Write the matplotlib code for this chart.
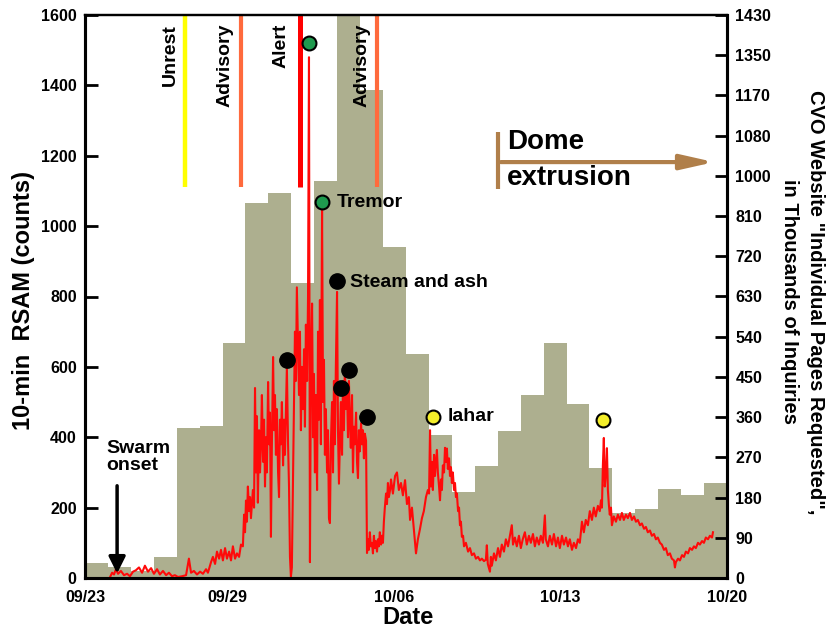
import numpy as np
import matplotlib
matplotlib.use("Agg")
import matplotlib.pyplot as plt

plt.rcParams['font.family'] = ['Liberation Sans', 'DejaVu Sans']
plt.rcParams['font.weight'] = 'bold'

# --- data (days since 09/23, RSAM counts) ---
date_ticks = [0, 6, 13, 20, 27]
date_labels = ['09/23', '09/29', '10/06', '10/13', '10/20']

right_labels = ['0', '90', '180', '270', '360', '450', '540', '630', '720',
                '810', '1000', '1080', '1170', '1350', '1430']

# web page bars, drawn on the RSAM scale
page_bars = [43, 31, 20, 60, 425, 431, 667, 1065, 1093, 838, 1128, 1650, 1386, 940,
             636, 406, 244, 318, 418, 520, 668, 494, 312, 185, 196, 253, 236, 270]

rsam_day = [
    1.05, 1.14, 1.22, 1.30, 1.39, 1.51, 1.64, 1.77, 1.89, 2.02, 2.14, 2.27, 2.40, 2.52,
    2.65, 2.78, 2.90, 3.03, 3.15, 3.28, 3.41, 3.53, 3.66, 3.78, 3.91, 4.08, 4.25, 4.37,
    4.46, 4.58, 4.71, 4.84, 4.96, 5.09, 5.17, 5.30, 5.38, 5.47, 5.55, 5.64, 5.72, 5.80,
    5.89, 5.97, 6.06, 6.14, 6.22, 6.31, 6.39, 6.48, 6.56, 6.64, 6.69, 6.73, 6.77, 6.81,
    6.85, 6.90, 6.94, 6.98, 7.06, 7.11,
    7.15, 7.19, 7.23, 7.27, 7.32, 7.36, 7.40, 7.44, 7.49, 7.53, 7.57, 7.61, 7.65, 7.70,
    7.74, 7.78, 7.82, 7.86, 7.91, 7.95, 7.99, 8.03, 8.07, 8.12, 8.16, 8.20, 8.24, 8.28,
    8.33, 8.37, 8.41, 8.45, 8.49, 8.54, 8.58, 8.62, 8.66, 8.70, 8.75, 8.79, 8.83, 8.87,
    8.91, 8.96, 9.00, 9.04, 9.08, 9.12, 9.17, 9.21, 9.25, 9.29, 9.34, 9.38, 9.42, 9.46,
    9.50, 9.55, 9.59, 9.63, 9.67, 9.71, 9.76, 9.80, 9.84, 9.88, 9.92, 9.97, 10.01, 10.05,
    10.09, 10.13, 10.18, 10.22, 10.26, 10.30, 10.34, 10.39, 10.43, 10.47, 10.51, 10.55,
    10.60, 10.64, 10.68, 10.72, 10.76, 10.81, 10.85, 10.89, 10.93, 10.97, 11.02, 11.06,
    11.10, 11.14, 11.18, 11.23, 11.27, 11.31, 11.35, 11.40, 11.44, 11.48, 11.52, 11.56,
    11.61, 11.65, 11.69, 11.73, 11.77, 11.82, 11.86, 11.90, 11.94, 11.98, 12.02, 12.07,
    12.11, 12.15, 12.19, 12.23, 12.28, 12.32, 12.36, 12.40, 12.45, 12.49, 12.53, 12.57,
    12.61, 12.66, 12.70, 12.74, 12.78, 12.83,
    12.87, 12.95, 13.04, 13.12, 13.20, 13.29, 13.37, 13.46, 13.54, 13.62, 13.67, 13.75,
    13.83, 13.92, 14.00, 14.09, 14.17, 14.25, 14.34, 14.42, 14.47, 14.51, 14.55, 14.59,
    14.63, 14.68, 14.72, 14.76, 14.80, 14.84, 14.89, 14.93, 14.97, 15.01, 15.05, 15.10,
    15.14, 15.18, 15.22, 15.26, 15.31, 15.35, 15.39, 15.43, 15.47, 15.52, 15.56, 15.60,
    15.64, 15.69, 15.73, 15.77, 15.81, 15.85, 15.90, 15.94, 16.02, 16.11, 16.19, 16.27,
    16.36, 16.44, 16.53, 16.61, 16.69, 16.78, 16.86, 16.90, 16.94, 17.03, 17.07, 17.11,
    17.20, 17.28, 17.37, 17.45, 17.53, 17.62, 17.70, 17.79, 17.87, 17.95, 18.00, 18.08,
    18.16, 18.25, 18.33, 18.41, 18.50, 18.58, 18.67, 18.75, 18.84, 18.92, 19.00, 19.09,
    19.17, 19.26, 19.34, 19.38, 19.47, 19.55, 19.64, 19.72, 19.81, 19.89, 19.97, 20.06,
    20.14, 20.23, 20.31, 20.39, 20.48, 20.56, 20.65, 20.73, 20.81, 20.90, 20.98, 21.06,
    21.15, 21.23, 21.32, 21.40, 21.48, 21.57, 21.65, 21.70, 21.74, 21.78, 21.82, 21.86,
    21.91, 21.95, 21.99, 22.03, 22.07, 22.12, 22.16, 22.24, 22.33, 22.41, 22.50, 22.58,
    22.66, 22.75, 22.83, 22.92, 23.00, 23.09, 23.17, 23.25, 23.34, 23.42, 23.51, 23.59,
    23.67, 23.76, 23.84, 23.93, 24.01, 24.09, 24.18, 24.26, 24.35, 24.43, 24.51, 24.60,
    24.68, 24.77, 24.81, 24.85, 24.94, 25.02, 25.11, 25.19, 25.27, 25.36, 25.44, 25.53,
    25.61, 25.69, 25.78, 25.86, 25.95, 26.03, 26.11, 26.20, 26.28, 26.37, 26.41,
]
rsam_count = [
    2, 15, 10, 25, 12, 20, 8, 12, 5, 18, 22, 30, 15, 35,
    18, 28, 12, 25, 10, 20, 8, 15, 5, 8, 3, 5, 8, 55,
    15, 20, 10, 18, 12, 25, 15, 45, 60, 40, 75, 55, 80, 50,
    85, 55, 75, 50, 90, 55, 70, 60, 95, 90, 180, 130, 220, 160,
    260, 190, 230, 170, 250, 200,
    540, 300, 460, 214, 420, 300, 380, 520, 330, 450, 260, 400, 300, 557,
    380, 470, 117, 380, 628, 420, 520, 350, 480, 300, 230, 450, 380, 500,
    320, 450, 350, 480, 600, 380, 260, 60, 4, 30, 300, 500, 700, 560,
    826, 650, 520, 700, 420, 600, 480, 650, 430, 720, 560, 800, 1480, 45,
    600, 780, 400, 580, 300, 520, 250, 700, 450, 790, 380, 1045, 500, 620,
    350, 480, 300, 420, 170, 156, 380, 500, 300, 560, 380, 600,
    813, 420, 268, 380, 500, 350, 560, 420, 600, 480, 540, 400,
    560, 450, 370, 520, 300, 430, 380, 470, 330, 284, 420, 360,
    440, 380, 420, 340, 410, 390, 71, 110, 80, 130, 90, 100,
    70, 120, 85, 105, 75, 110, 90, 130, 95, 120, 100, 160,
    200, 240, 210, 270, 230, 250,
    280, 240, 290, 300, 250, 270, 235, 278, 210, 230, 165, 200,
    140, 70, 110, 140, 170, 190, 230, 250, 240, 420, 260, 330,
    250, 350, 290, 330, 364, 300, 260, 221, 280, 250, 320, 300,
    370, 330, 368, 310, 340, 290, 315, 270, 300, 250, 270, 230,
    240, 190, 200, 150, 160, 117, 120, 90, 100, 75, 85, 65,
    70, 55, 60, 50, 55, 48, 52, 93, 40, 18, 60, 35,
    70, 50, 85, 60, 95, 75, 110, 90, 120, 150, 95, 115,
    90, 120, 85, 110, 130, 95, 120, 100, 125, 90, 115, 95,
    120, 100, 178, 110, 90, 120, 95, 125, 90, 115, 85, 120,
    95, 115, 90, 110, 80, 100, 85, 110, 100, 160, 130, 165,
    150, 190, 165, 200, 175, 205, 190, 221, 200, 320, 398, 260,
    300, 369, 250, 210, 180, 200, 150, 175, 160, 180, 165, 185,
    165, 180, 170, 185, 165, 175, 160, 165, 150, 155, 140, 145,
    130, 135, 120, 125, 110, 115, 100, 95, 80, 85, 65, 70,
    55, 50, 30, 45, 55, 50, 65, 60, 75, 70, 85, 80,
    90, 85, 100, 95, 105, 100, 115, 110, 120, 115, 130,
]

# alert level changes
level_days = [4.2, 6.56, 9.04, 12.28]
level_names = ['Unrest', 'Advisory', 'Alert', 'Advisory']
level_text_days = [3.57, 5.89, 8.24, 11.65]

# events
green_day = [9.42, 9.97]
green_count = [1520, 1068]
black_day = [10.60, 8.49, 11.10, 10.77, 11.86]
black_count = [844, 619, 591, 540, 457]
yellow_day = [14.63, 21.78]
yellow_count = [457, 449]

bar_color = '#adaf8f'
level_colors = ['#ffff00', '#ff6a3d', '#ff0000', '#ff6a3d']
brown = '#b07f4a'

fig = plt.figure(figsize=(8.32, 6.31), dpi=100)
ax = fig.add_axes([85 / 832, 1 - 578 / 631, 642 / 832, 563 / 631])

ax.stairs(page_bars, np.linspace(0, 27, len(page_bars) + 1), fill=True,
          color=bar_color, zorder=1)
ax.plot(rsam_day, rsam_count, color='#ff0a0a', lw=1.5, zorder=3)

for d, c, w in zip(level_days, level_colors, [3.2, 3.0, 3.6, 3.0]):
    ax.plot([d, d], [1110, 1600], color=c, lw=w, solid_capstyle='butt', zorder=2)
for d, name in zip(level_text_days, level_names):
    ax.text(d, 1575, name, rotation=90, ha='center', va='top', fontsize=14)

ax.plot(green_day, green_count, 'o', ms=10, mfc='#1f9a4e', mec='black', mew=1.5, zorder=5)
ax.plot(black_day, black_count, 'o', ms=11, mfc='black', mec='black', zorder=5)
ax.plot(yellow_day, yellow_count, 'o', ms=10, mfc='#f4ee2a', mec='black', mew=1.5, zorder=5)

ax.text(10.60, 1068, 'Tremor', va='center', fontsize=14)
ax.text(11.14, 840, 'Steam and ash', va='center', fontsize=14)
ax.text(15.26, 460, 'lahar', va='center', fontsize=14)

# swarm onset arrow
ax.annotate('', xy=(1.35, 5), xytext=(1.35, 270),
            arrowprops=dict(arrowstyle='-|>,head_width=0.5,head_length=1.0',
                            color='black', lw=2.5), zorder=6)
ax.text(0.88, 345, 'Swarm\nonset', ha='left', va='center', fontsize=14, linespacing=1.0)

# dome extrusion
ax.plot([17.37, 17.37], [1105, 1267], color=brown, lw=3, solid_capstyle='butt')
ax.annotate('', xy=(26.58, 1182), xytext=(17.37, 1182),
            arrowprops=dict(arrowstyle='-|>,head_width=0.45,head_length=2.0',
                            color=brown, lw=3))
ax.text(17.75, 1238, 'Dome', ha='left', va='center', fontsize=20)
ax.text(17.75, 1136, 'extrusion', ha='left', va='center', fontsize=20)

ax.set_xlim(0, 27)
ax.set_ylim(0, 1600)
ax.set_xticks(date_ticks)
ax.set_xticklabels(date_labels)
ax.set_yticks(np.arange(0, 1601, 200))
ax.tick_params(axis='x', length=0, pad=9, labelsize=11.5)
ax.tick_params(axis='y', direction='in', length=9, width=2, pad=6, labelsize=11.5)

ax2 = ax.twinx()
ax2.set_ylim(0, 14)
ax2.set_yticks(range(15))
ax2.set_yticklabels(right_labels)
ax2.tick_params(axis='y', direction='in', length=9, width=2, pad=6, labelsize=11.5)

for a in (ax, ax2):
    for s in a.spines.values():
        s.set_linewidth(2.2)
        s.set_color('black')
    a.spines['top'].set_linewidth(1.6)

fig.text(24 / 832, 1 - 301 / 631, '10-min  RSAM (counts)', rotation=90,
         ha='center', va='center', fontsize=17)
fig.text(408 / 832, 1 - 617 / 631, 'Date', ha='center', va='center', fontsize=17)
fig.text(816 / 832, 1 - 302 / 631, 'CVO Website "Individual Pages Requested",',
         rotation=270, ha='center', va='center', fontsize=14.5)
fig.text(790 / 832, 1 - 302 / 631, 'in Thousands of Inquiries',
         rotation=270, ha='center', va='center', fontsize=14.5)

fig.savefig('out.png', dpi=100)
